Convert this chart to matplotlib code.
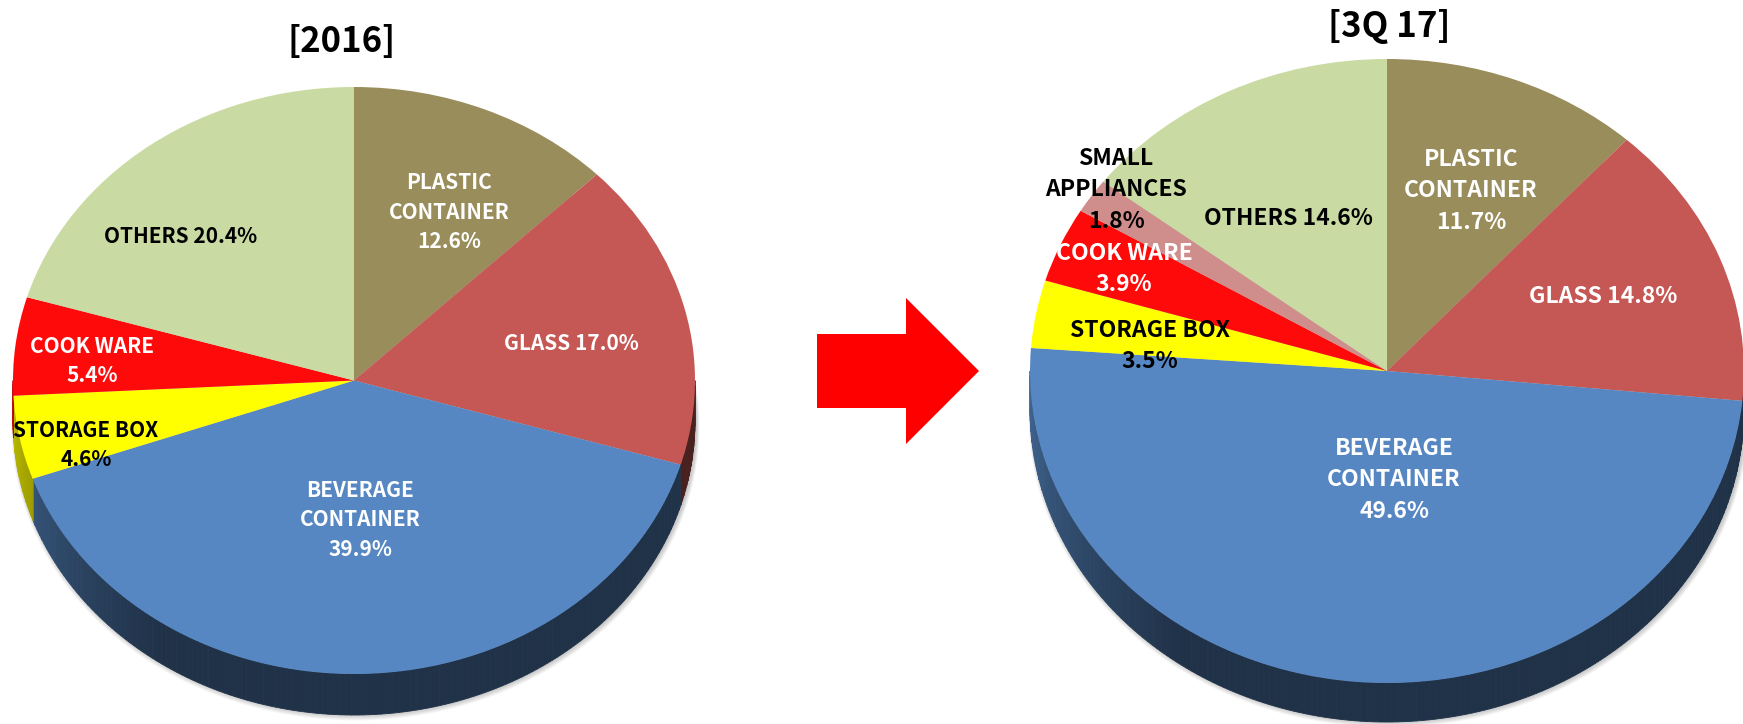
import numpy as np
import matplotlib.pyplot as plt
import matplotlib.colors as mcolors
from matplotlib.patches import FancyArrow, Polygon

plt.rcParams['font.family'] = ['Noto Sans CJK KR', 'DejaVu Sans']

W, H = 1743, 724

## DATA
names_2016 = ['PLASTIC\nCONTAINER', 'GLASS', 'BEVERAGE\nCONTAINER', 'STORAGE BOX',
              'COOK WARE', 'OTHERS']
vals_2016 = [12.6, 17.0, 39.9, 4.6, 5.4, 20.4]

names_3q17 = ['PLASTIC\nCONTAINER', 'GLASS', 'BEVERAGE\nCONTAINER', 'STORAGE BOX',
              'COOK WARE', 'SMALL\nAPPLIANCES', 'OTHERS']
vals_3q17 = [11.7, 14.8, 49.6, 3.5, 3.9, 1.8, 14.6]

titles = ['[2016]', '[3Q 17]']

slice_colors = {
    'PLASTIC\nCONTAINER': '#998d5b',
    'GLASS': '#c55855',
    'BEVERAGE\nCONTAINER': '#5687c3',
    'STORAGE BOX': '#ffff00',
    'COOK WARE': '#ff0a0a',
    'SMALL\nAPPLIANCES': '#cf8d8b',
    'OTHERS': '#c9dba2',
}
text_colors = {
    'PLASTIC\nCONTAINER': 'white', 'GLASS': 'white', 'BEVERAGE\nCONTAINER': 'white',
    'COOK WARE': 'white', 'STORAGE BOX': 'black', 'SMALL\nAPPLIANCES': 'black',
    'OTHERS': 'black',
}
one_line = {'GLASS', 'OTHERS'}

# label centres in pixels (from top-left)
labels_px_2016 = [(449, 212), (571, 343), (360, 520), (86, 445), (92, 361), (181, 236)]
labels_px_3q17 = [(1471, 191), (1603, 297), (1394, 480), (1150, 346), (1124, 269),
                  (1116, 190), (1288, 219)]

fig = plt.figure(figsize=(W / 100, H / 100), dpi=100)


def side_shade(c):
    # walls get lighter toward the left-hand side
    return 0.37 + 0.38 * np.clip((c - 215) / 55, 0, 1)


def draw_pie(vals, names, cx, cy, rx, ry, depth, label_px, fs):
    ax = fig.add_axes([0, 0, 1, 1])
    ax.set_axis_off()
    cols = [slice_colors[n] for n in names]
    d = depth / ry
    px_y = 1 / ry
    px_x = 1 / rx

    # soft shadow under the rim
    t = np.linspace(0, 2 * np.pi, 300)
    for k in range(1, 7):
        ax.fill(np.sin(t) * (1 + k * px_x * 0.5) + 1.5 * px_x,
                np.cos(t) - d - k * px_y * 0.9,
                color='black', alpha=0.035, lw=0, zorder=0.2)

    # front walls of the slices
    bounds = np.concatenate([[0], np.cumsum(vals)]) / 100 * 360
    for i in range(len(vals)):
        c0, c1 = max(bounds[i], 90), min(bounds[i + 1], 270)
        if c1 <= c0:
            continue
        base = np.array(mcolors.to_rgb(cols[i]))
        steps = np.linspace(c0, c1, int(c1 - c0) + 2)
        for a, b in zip(steps[:-1], steps[1:]):
            aa = np.radians(np.linspace(a, b, 4))
            xs = np.sin(aa)
            ys = np.cos(aa)
            poly = np.column_stack([np.concatenate([xs, xs[::-1]]),
                                    np.concatenate([ys, ys[::-1] - d])])
            col = base * side_shade((a + b) / 2)
            ax.add_patch(Polygon(poly, closed=True, facecolor=col, edgecolor=col,
                                 lw=0.6, zorder=0.5))

    # top face
    ax.pie(vals, colors=cols, startangle=90, counterclock=False, radius=1,
           wedgeprops=dict(linewidth=0))
    ax.set_aspect('auto')
    ax.set_xlim(-cx / rx, (W - cx) / rx)
    ax.set_ylim((cy - H) / ry, cy / ry)

    for name, v, (lx, ly) in zip(names, vals, label_px):
        sep = ' ' if name in one_line else '\n'
        ax.text((lx - cx) / rx, (cy - ly) / ry, f'{name}{sep}{v:.1f}%',
                ha='center', va='center', multialignment='center',
                fontsize=fs, fontweight='bold', color=text_colors[name],
                linespacing=1.48, zorder=3)


draw_pie(vals_2016, names_2016, 354, 380.5, 341, 293.5, 41, labels_px_2016, 15)
draw_pie(vals_3q17, names_3q17, 1387, 371, 357, 312, 39, labels_px_3q17, 16.5)

# overlay in pixel coordinates: titles and the arrow
ov = fig.add_axes([0, 0, 1, 1])
ov.set_xlim(0, W)
ov.set_ylim(H, 0)
ov.set_axis_off()
ov.patch.set_alpha(0)
ov.text(342, 42, titles[0], ha='center', va='center', fontsize=25, fontweight='bold')
ov.text(1389, 26, titles[1], ha='center', va='center', fontsize=25, fontweight='bold')
ov.add_patch(FancyArrow(817, 371, 162, 0, width=74, head_width=146, head_length=73,
                        length_includes_head=True, color='#ff0000', lw=0))

plt.savefig('out.png', dpi=100)
